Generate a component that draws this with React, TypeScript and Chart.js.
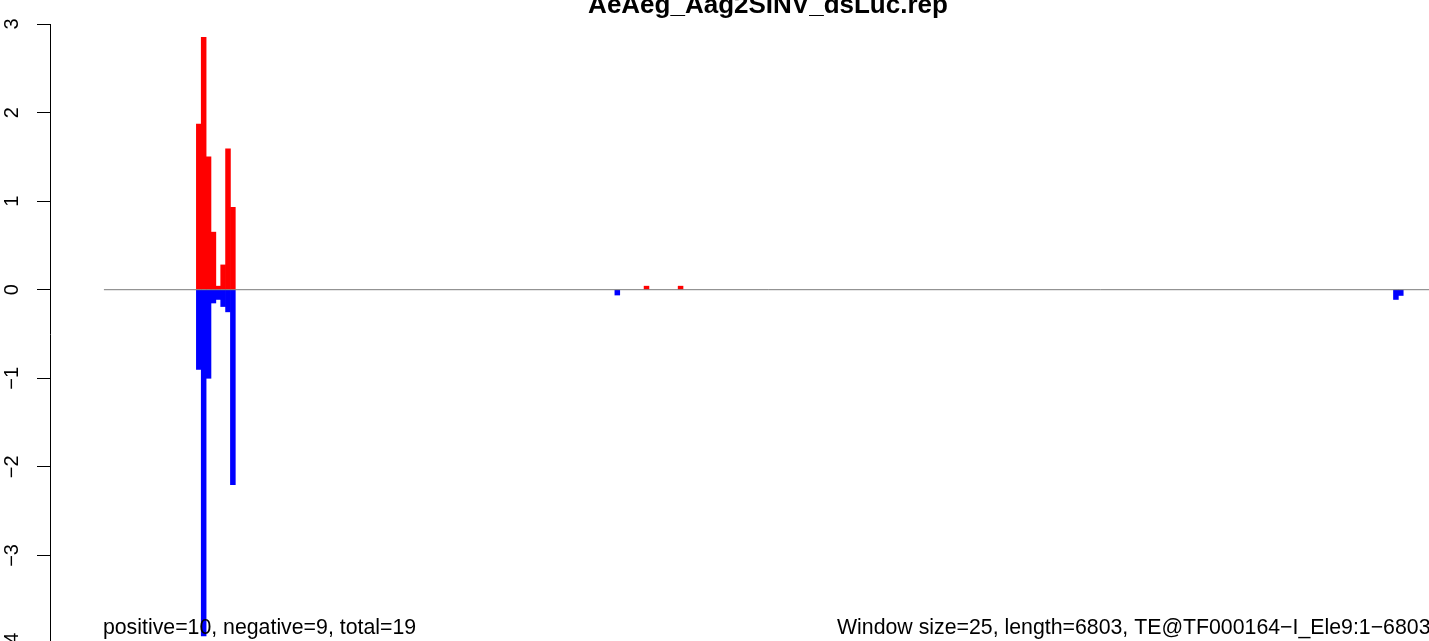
import React, { useEffect, useRef } from "react";
import { Chart, registerables } from "chart.js";

Chart.register(...registerables);

const TITLE = "AeAeg_Aag2SINV_dsLuc.rep";
const WINDOW_SIZE = 25;
const SEQ_LENGTH = 6803;
const LEFT_NOTE = "positive=10, negative=9, total=19";
const RIGHT_NOTE = "Window size=25, length=6803, TE@TF000164\u2212I_Ele9:1\u22126803";
const Y_MIN = -4;
const Y_MAX = 3;

// window indices (window = 25 bp) and their values
const POS_WINDOWS = [19, 20, 21, 22, 23, 24, 25, 26, 111, 118];
const POS_VALUES = [1.87, 2.85, 1.5, 0.65, 0.04, 0.28, 1.59, 0.93, 0.04, 0.04];
const NEG_WINDOWS = [19, 20, 21, 22, 23, 24, 25, 26, 105, 265, 266];
const NEG_VALUES = [-0.9, -3.91, -1.0, -0.15, -0.11, -0.19, -0.25, -2.2, -0.06, -0.11, -0.065];

const N_WINDOWS = Math.ceil(SEQ_LENGTH / WINDOW_SIZE);

function buildSeries(windows: number[], values: number[]) {
  const map = new Map<number, number>();
  windows.forEach((w, k) => map.set(w, values[k]));
  const out: { x: number; y: number | null }[] = [];
  for (let i = 0; i < N_WINDOWS; i++) {
    out.push({ x: i * WINDOW_SIZE + WINDOW_SIZE / 2, y: map.has(i) ? (map.get(i) as number) : null });
  }
  return out;
}

const FONT = '"Liberation Sans", Arial, Helvetica, sans-serif';

const annotatePlugin = {
  id: "annotate",
  afterDatasetsDraw(chart: any) {
    const { ctx, scales } = chart;
    const x = scales.x;
    const y = scales.y;
    ctx.save();
    ctx.strokeStyle = "#7a7a7a";
    ctx.lineWidth = 1;
    const y0 = y.getPixelForValue(0);
    ctx.beginPath();
    ctx.moveTo(x.getPixelForValue(0), y0);
    ctx.lineTo(x.getPixelForValue(N_WINDOWS * WINDOW_SIZE), y0);
    ctx.stroke();
    ctx.restore();
  },
  afterDraw(chart: any) {
    const { ctx, scales, chartArea } = chart;
    const x = scales.x;
    const y = scales.y;
    ctx.save();
    ctx.fillStyle = "#000";
    // title
    ctx.font = `bold 26px ${FONT}`;
    ctx.textAlign = "center";
    ctx.textBaseline = "alphabetic";
    ctx.fillText(TITLE, (chartArea.left + chartArea.right) / 2 + 1, 13);
    // y tick labels (rotated)
    ctx.font = `20px ${FONT}`;
    y.ticks.forEach((t: any) => {
      const py = y.getPixelForValue(t.value);
      const label = String(t.value).replace("-", "\u2212");
      ctx.save();
      ctx.translate(18, py);
      ctx.rotate(-Math.PI / 2);
      ctx.textAlign = "center";
      ctx.fillText(label, 0, 0);
      ctx.restore();
    });
    // bottom notes
    ctx.font = `21.3px ${FONT}`;
    ctx.textAlign = "left";
    ctx.fillText(LEFT_NOTE, x.getPixelForValue(0) - 1, 634);
    ctx.fillText(RIGHT_NOTE, 837, 634);
    ctx.restore();
  },
};

export default function App() {
  const ref = useRef<HTMLCanvasElement | null>(null);

  useEffect(() => {
    if (!ref.current) return;
    const chart = new Chart(ref.current, {
      type: "bar",
      data: {
        datasets: [
          {
            data: buildSeries(POS_WINDOWS, POS_VALUES) as any,
            backgroundColor: "#ff0000",
            borderWidth: 0,
            grouped: false,
            barPercentage: 1,
            categoryPercentage: 1,
          } as any,
          {
            data: buildSeries(NEG_WINDOWS, NEG_VALUES) as any,
            backgroundColor: "#0000ff",
            borderWidth: 0,
            grouped: false,
            barPercentage: 1,
            categoryPercentage: 1,
          } as any,
        ],
      },
      options: {
        animation: false,
        responsive: true,
        maintainAspectRatio: false,
        layout: { padding: { left: 37, top: 24, right: 16, bottom: 16 } },
        plugins: {
          legend: { display: false },
          tooltip: { enabled: false },
          title: { display: false },
        },
        scales: {
          x: {
            type: "linear",
            min: -277,
            max: 7090,
            offset: false,
            display: false,
          },
          y: {
            type: "linear",
            min: Y_MIN,
            max: Y_MAX,
            ticks: { stepSize: 1, display: false },
            grid: {
              display: true,
              drawOnChartArea: false,
              drawTicks: true,
              tickLength: 13,
              color: "#000",
              lineWidth: 1,
            },
            border: { display: true, color: "#000", width: 1 },
          },
        },
      } as any,
      plugins: [annotatePlugin],
    });
    return () => chart.destroy();
  }, []);

  return (
    <div
      style={{
        position: "fixed",
        left: 0,
        top: 0,
        width: 1429,
        height: 641,
        overflow: "hidden",
        background: "#fff",
      }}
    >
      <div style={{ position: "absolute", left: 0, top: 0, width: 1500, height: 660 }}>
        <canvas ref={ref} />
      </div>
    </div>
  );
}
